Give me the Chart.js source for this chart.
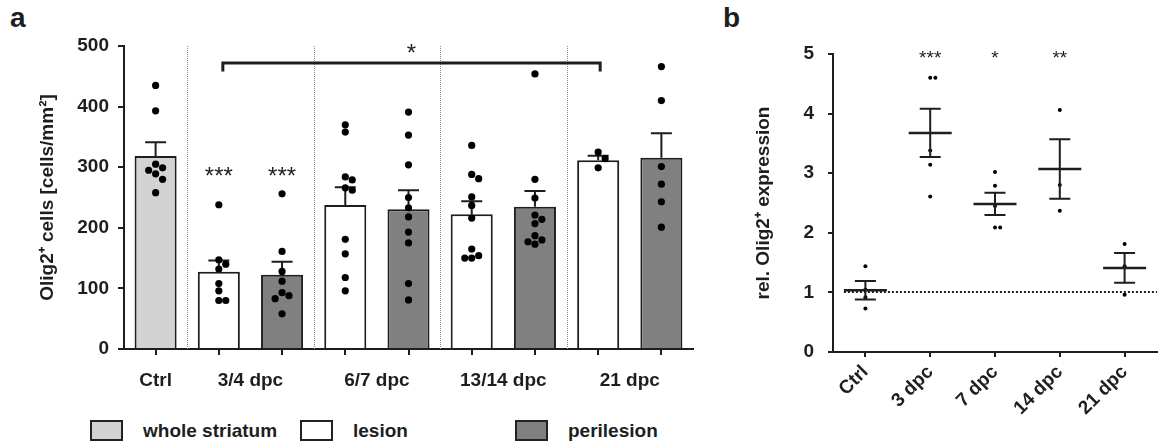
<!DOCTYPE html>
<html>
<head>
<meta charset="utf-8">
<script src="https://cdn.jsdelivr.net/npm/chart.js@4.4.1/dist/chart.umd.min.js"></script>
<style>
  html, body { margin:0; padding:0; background:#fff; width:1161px; height:445px; overflow:hidden;
    font-family:"Liberation Sans", Arial, sans-serif; color:#1e1e1e; }
  #ca { position:absolute; left:0; top:0; }
  #cb { position:absolute; left:700px; top:0; }
  .panel { position:absolute; font-weight:bold; font-size:28px; line-height:28px; }
  .li { position:absolute; top:420px; height:21px; display:flex; align-items:center;
    font-weight:bold; font-size:19px; white-space:nowrap; }
  .box { box-sizing:border-box; width:33px; height:21px; border:2px solid #222; margin-right:20px; }
</style>
</head>
<body>
<div class="panel" style="left:10px;top:4px;">a</div>
<div class="panel" style="left:723px;top:4px;">b</div>
<canvas id="ca" width="700" height="400"></canvas>
<canvas id="cb" width="461" height="445"></canvas>
<div id="legend"></div>
<script>
// ---------------- DATA : panel a ----------------
const groupLabelsA = ['Ctrl', '3/4 dpc', '6/7 dpc', '13/14 dpc', '21 dpc'];
const regionNames  = ['whole striatum', 'lesion', 'perilesion'];
const barGroupA    = [0, 1, 1, 2, 2, 3, 3, 4, 4];
const barRegionA   = [0, 1, 2, 1, 2, 1, 2, 1, 2];
const meanA        = [318.5, 127.6, 122.4, 237.6, 230.6, 222.5, 234.6, 311.4, 315.7];
const semTopA      = [341, 146, 144, 267, 262, 243.7, 260.7, 319, 356];
const dotsA = [
  [435, 393, 305, 299, 295, 289, 280, 258],
  [238, 147, 140, 132, 108, 96, 80, 80],
  [256, 161, 128, 112, 93, 88, 83, 58],
  [370, 358, 284, 279, 266, 262, 181, 157, 118, 96],
  [391, 353, 304, 250, 233, 218, 193, 175, 108, 81],
  [336, 288, 281, 251, 237, 216, 165, 154, 150, 150],
  [454, 280, 249, 221, 214, 207, 187, 180, 177, 173],
  [325, 314, 299],
  [466, 410, 301, 272, 243, 201]
];
const starsA       = ['', '***', '***', '', '', '', '', '', ''];
const bracketBarsA = [1, 7];
const bracketLabelA = '*';
const yTicksA      = [0, 100, 200, 300, 400, 500];

// ---------------- DATA : panel b ----------------
const labelsB = ['Ctrl', '3 dpc', '7 dpc', '14 dpc', '21 dpc'];
const meanB   = [1.035, 3.675, 2.485, 3.07, 1.41];
const semB    = [0.155, 0.405, 0.185, 0.50, 0.25];
const dotsB = [
  [1.44, 1.05, 0.92, 0.73],
  [4.60, 4.60, 3.38, 3.14, 2.61],
  [3.02, 2.79, 2.45, 2.09, 2.09],
  [4.06, 2.80, 2.37],
  [1.81, 1.44, 0.96]
];
const starsB  = ['', '***', '*', '**', ''];
const refLineB = 1;
const yTicksB = [0, 1, 2, 3, 4, 5];

// ---------------- styles ----------------
const INK = '#1e1e1e';
const regionColors = ['#d3d3d3', '#ffffff', '#808080'];
const FONT = '"Liberation Sans", Arial, sans-serif';
Chart.defaults.font.family = FONT;
Chart.defaults.font.size = 19;
Chart.defaults.font.weight = 'bold';
Chart.defaults.color = INK;

// simple beeswarm: spread overlapping dots sideways
function swarm(values, center, dyT, dxT) {
  const placed = [];
  return values.map(v => {
    for (let k = 0; k < 30; k++) {
      const off = k === 0 ? 0 : (k % 2 ? 1 : -1) * Math.ceil(k / 2) * dxT;
      const x = center + off;
      if (!placed.some(p => Math.abs(p.y - v) < dyT && Math.abs(p.x - x) < dxT * 0.99)) {
        placed.push({ x, y: v });
        return { x, y: v };
      }
    }
    return { x: center, y: v };
  });
}

// ---------------- panel a ----------------
const barNamesA = meanA.map((_, i) => groupLabelsA[barGroupA[i]] + ' ' + regionNames[barRegionA[i]]);
const groupCentersA = groupLabelsA.map((_, g) => {
  const idx = barGroupA.map((gg, i) => gg === g ? i : null).filter(v => v !== null);
  return idx.reduce((a, b) => a + b, 0) / idx.length;
});
const dotPointsA = dotsA.flatMap((vals, i) => swarm(vals, i, 11.5, 0.11));

const datasetsA = regionNames.map((name, r) => ({
  type: 'bar',
  label: name,
  data: meanA.map((v, i) => barRegionA[i] === r ? v : null),
  backgroundColor: regionColors[r],
  borderColor: INK,
  borderWidth: 2,
  grouped: false,
  barPercentage: 0.665,
  categoryPercentage: 1,
  xAxisID: 'x', yAxisID: 'y',
  order: 1
}));
datasetsA.push({
  type: 'scatter', label: 'dots', data: dotPointsA,
  xAxisID: 'xg', yAxisID: 'y',
  pointRadius: 3.6, pointBackgroundColor: '#000', pointBorderWidth: 0, order: 0
});

const decoA = {
  id: 'decoA',
  beforeDatasetsDraw(chart) {
    const { ctx, chartArea, scales: { x } } = chart;
    ctx.save();
    ctx.strokeStyle = '#8a8a8a'; ctx.lineWidth = 1; ctx.setLineDash([1, 1]);
    for (let i = 1; i < barGroupA.length; i++) {
      if (barGroupA[i] !== barGroupA[i - 1]) {
        const px = Math.round((x.getPixelForValue(i - 1) + x.getPixelForValue(i)) / 2) + 0.5;
        ctx.beginPath(); ctx.moveTo(px, chartArea.top); ctx.lineTo(px, chartArea.bottom); ctx.stroke();
      }
    }
    ctx.restore();
  },
  afterDatasetDraw(chart, args) {
    if (args.index !== 0) return;
    const { ctx, scales: { x, y } } = chart;
    ctx.save(); ctx.strokeStyle = INK; ctx.lineWidth = 2;
    meanA.forEach((m, i) => {
      const px = x.getPixelForValue(i);
      const y0 = y.getPixelForValue(m), y1 = y.getPixelForValue(semTopA[i]);
      ctx.beginPath();
      ctx.moveTo(px, y0); ctx.lineTo(px, y1);
      ctx.moveTo(px - 10.5, y1); ctx.lineTo(px + 10.5, y1);
      ctx.stroke();
    });
    ctx.restore();
  },
  afterDatasetsDraw(chart) {
    const { ctx, scales: { x, y } } = chart;
    ctx.save();
    ctx.fillStyle = INK; ctx.textAlign = 'center'; ctx.textBaseline = 'alphabetic';
    ctx.font = '24px ' + FONT;
    starsA.forEach((s, i) => { if (s) ctx.fillText(s, x.getPixelForValue(i), y.getPixelForValue(272)); });
    // bracket
    const xa = x.getPixelForValue(bracketBarsA[0]) + 4, xb = x.getPixelForValue(bracketBarsA[1]) + 2;
    const yl = y.getPixelForValue(472), ye = y.getPixelForValue(458);
    ctx.strokeStyle = INK; ctx.lineWidth = 3;
    ctx.beginPath(); ctx.moveTo(xa, ye); ctx.lineTo(xa, yl); ctx.lineTo(xb, yl); ctx.lineTo(xb, ye); ctx.stroke();
    ctx.fillText(bracketLabelA, (xa + xb) / 2, y.getPixelForValue(475));
    ctx.restore();
  }
};

const chartA = new Chart(document.getElementById('ca'), {
  data: { labels: barNamesA, datasets: datasetsA },
  options: {
    responsive: false, animation: false, devicePixelRatio: 1,
    layout: { padding: { top: 46, right: 7, left: 0, bottom: 0 } },
    plugins: { legend: { display: false }, tooltip: { enabled: false } },
    scales: {
      x: {
        type: 'category', position: 'bottom', offset: true,
        grid: { offset: false, drawOnChartArea: false, drawTicks: true, tickLength: 6, color: INK, lineWidth: 2 },
        border: { display: true, color: INK, width: 2 },
        ticks: { display: false },
        afterFit(s) { s.height = 7; }
      },
      xg: {
        type: 'linear', position: 'bottom', min: -0.5, max: barNamesA.length - 0.5,
        grid: { display: false }, border: { display: false },
        afterBuildTicks(s) { s.ticks = groupCentersA.map(v => ({ value: v })); },
        ticks: { autoSkip: false, maxRotation: 0, padding: 5, font: { size: 19, weight: 'bold' },
          callback: (v, i) => groupLabelsA[i] },
        afterFit(s) { s.height = 44; }
      },
      y: {
        type: 'linear', min: 0, max: 500,
        afterBuildTicks(s) { s.ticks = yTicksA.map(v => ({ value: v })); },
        grid: { drawOnChartArea: false, drawTicks: true, tickLength: 6, color: INK, lineWidth: 2 },
        border: { display: true, color: INK, width: 2 },
        ticks: { padding: 9, font: { size: 19, weight: 'bold' } },
        title: { display: true, text: 'Olig2⁺ cells [cells/mm²]', font: { size: 19, weight: 'bold' },
          padding: { top: 36, bottom: 0 } },
        afterFit(s) { s.width = 124; }
      }
    }
  },
  plugins: [decoA]
});

// HTML legend from the bar datasets
const legendX = [90, 300, 515];
const legendEl = document.getElementById('legend');
datasetsA.filter(d => d.type === 'bar').forEach((d, i) => {
  const item = document.createElement('div');
  item.className = 'li';
  item.style.left = legendX[i] + 'px';
  const box = document.createElement('span');
  box.className = 'box';
  box.style.background = d.backgroundColor;
  item.appendChild(box);
  item.appendChild(document.createTextNode(d.label));
  legendEl.appendChild(item);
});

// ---------------- panel b ----------------
const dotPointsB = dotsB.flatMap((vals, i) => swarm(vals, i, 0.07, 0.08));

const decoB = {
  id: 'decoB',
  afterDatasetsDraw(chart) {
    const { ctx, chartArea, scales: { x, y } } = chart;
    ctx.save();
    ctx.strokeStyle = INK;
    meanB.forEach((m, i) => {
      const px = x.getPixelForValue(i);
      const ym = y.getPixelForValue(m), yt = y.getPixelForValue(m + semB[i]), yb = y.getPixelForValue(m - semB[i]);
      ctx.lineWidth = 2;
      ctx.beginPath();
      ctx.moveTo(px, yt); ctx.lineTo(px, yb);
      ctx.moveTo(px - 10.5, yt); ctx.lineTo(px + 10.5, yt);
      ctx.moveTo(px - 10.5, yb); ctx.lineTo(px + 10.5, yb);
      ctx.stroke();
      ctx.lineWidth = 2.5;
      ctx.beginPath(); ctx.moveTo(px - 21.5, ym); ctx.lineTo(px + 21.5, ym); ctx.stroke();
    });
    // reference line
    ctx.lineWidth = 2; ctx.setLineDash([2, 2]);
    const yr = Math.round(y.getPixelForValue(refLineB));
    ctx.beginPath(); ctx.moveTo(x.getPixelForValue(0) - 21.5, yr); ctx.lineTo(chartArea.right, yr); ctx.stroke();
    ctx.setLineDash([]);
    // stars
    ctx.fillStyle = INK; ctx.textAlign = 'center'; ctx.textBaseline = 'alphabetic';
    ctx.font = '19px ' + FONT;
    starsB.forEach((s, i) => { if (s) ctx.fillText(s, x.getPixelForValue(i), y.getPixelForValue(4.83)); });
    ctx.restore();
  }
};

const chartB = new Chart(document.getElementById('cb'), {
  data: {
    labels: labelsB,
    datasets: [{
      type: 'scatter', label: 'rel. expression', data: dotPointsB,
      xAxisID: 'xl', yAxisID: 'y',
      pointRadius: 2, pointBackgroundColor: '#000', pointBorderWidth: 0
    }]
  },
  options: {
    responsive: false, animation: false, devicePixelRatio: 1,
    layout: { padding: { top: 54, right: 1, left: 0, bottom: 0 } },
    plugins: { legend: { display: false }, tooltip: { enabled: false } },
    scales: {
      x: {
        type: 'category', position: 'bottom', offset: true,
        grid: { offset: false, drawOnChartArea: false, drawTicks: true, tickLength: 5, color: INK, lineWidth: 2 },
        border: { display: true, color: INK, width: 2 },
        ticks: { autoSkip: false, minRotation: 45, maxRotation: 45, padding: 4, font: { size: 19, weight: 'bold' } },
        afterFit(s) { s.height = 93; }
      },
      xl: { type: 'linear', display: false, min: -0.5, max: labelsB.length - 0.5 },
      y: {
        type: 'linear', min: 0, max: 5,
        afterBuildTicks(s) { s.ticks = yTicksB.map(v => ({ value: v })); },
        grid: { drawOnChartArea: false, drawTicks: true, tickLength: 5, color: INK, lineWidth: 2 },
        border: { display: true, color: INK, width: 2 },
        ticks: { padding: 14, font: { size: 19, weight: 'bold' } },
        title: { display: true, text: 'rel. Olig2⁺ expression', font: { size: 19, weight: 'bold' },
          padding: { top: 52, bottom: 0 } },
        afterFit(s) { s.width = 133; }
      }
    }
  },
  plugins: [decoB]
});
</script>
</body>
</html>
